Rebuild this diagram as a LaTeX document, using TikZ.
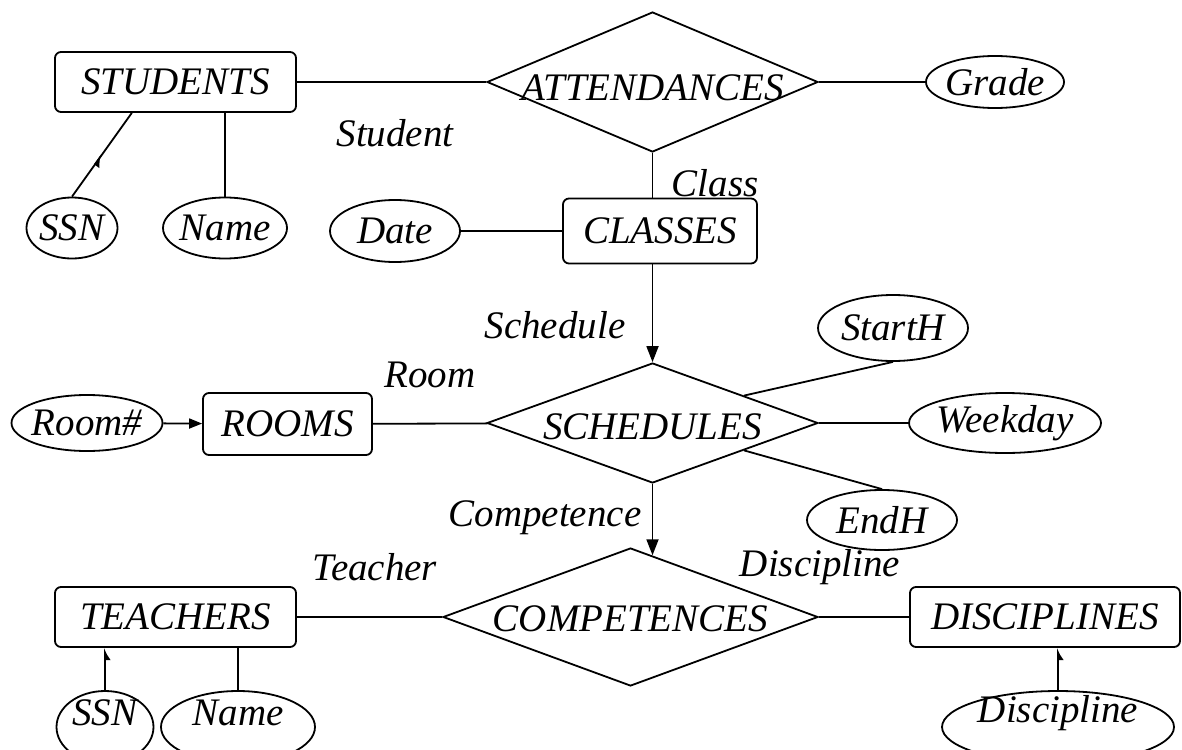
\documentclass[tikz,border=0pt]{standalone}
\usepackage{fontspec}
\setmainfont{Liberation Serif}
\usetikzlibrary{shapes.geometric, arrows.meta, calc, decorations.markings}
\begin{document}
\begin{tikzpicture}[x=1pt,y=-1pt, line width=1.8pt,
  every node/.style={font=\fontsize{39}{39}\selectfont\itshape},
  ent/.style={draw, rectangle, rounded corners=6pt, inner sep=0pt},
  attr/.style={draw, ellipse, inner sep=0pt},
  rel/.style={draw, diamond, inner sep=0pt},
  lbl/.style={inner sep=0pt},
  tipline/.style={-{Triangle[width=12pt,length=16pt]}},
  smalltip/.style={-{Triangle[width=10pt,length=13pt]}},
  halftip/.style={-{Latex[harpoon,swap,width=12pt,length=10pt]}}
]
\useasboundingbox (0,0) rectangle (1182,749);
\clip (0,0) rectangle (1182,749);

% entities
\node[ent, minimum width=241pt, minimum height=60pt] (stu) at (175.5,82) {STUDENTS};
\node[ent, minimum width=194pt, minimum height=65pt] (cls) at (660,231) {CLASSES};
\node[ent, minimum width=169pt, minimum height=62pt] (rooms) at (287.5,424) {ROOMS};
\node[ent, minimum width=241pt, minimum height=60pt] (tea) at (175.5,617) {TEACHERS};
\node[ent, minimum width=270pt, minimum height=60pt] (dis) at (1045,617) {DISCIPLINES};

% relationships
\node[rel, minimum width=331pt, minimum height=140pt, label={[lbl,yshift=-6pt]center:ATTENDANCES}] (att) at (652.5,82) {};
\node[rel, minimum width=331pt, minimum height=120pt, label={[lbl,yshift=-4pt]center:SCHEDULES}] (sch) at (652.5,423) {};
\node[rel, minimum width=375pt, minimum height=138pt, label={[lbl,yshift=-2pt]center:COMPETENCES}] (cmp) at (630.5,617) {};

% attributes
\node[attr, minimum width=138pt, minimum height=52pt, label={[lbl]center:Grade}] (grade) at (995,82) {};
\node[attr, minimum width=91pt, minimum height=61pt, label={[lbl]center:SSN}] (ssna) at (72,228) {};
\node[attr, minimum width=124pt, minimum height=61pt, label={[lbl]center:Name}] (namea) at (225,228) {};
\node[attr, minimum width=130pt, minimum height=62pt, label={[lbl]center:Date}] (date) at (395,231) {};
\node[attr, minimum width=150pt, minimum height=66pt, label={[lbl]center:StartH}] (starth) at (893,328) {};
\node[attr, minimum width=151pt, minimum height=56pt, label={[lbl]center:Room\#}] (roomno) at (87,423) {};
\node[attr, minimum width=192pt, minimum height=60pt, label={[lbl]center:Weekday}] (wk) at (1005,423) {};
\node[attr, minimum width=150pt, minimum height=60pt, label={[lbl]center:EndH}] (endh) at (882,520) {};
\node[attr, minimum width=97pt, minimum height=72pt, label={[lbl,yshift=14pt]center:SSN}] (ssnb) at (105,727) {};
\node[attr, minimum width=154pt, minimum height=72pt, label={[lbl,yshift=14pt]center:Name}] (nameb) at (238,727) {};
\node[attr, minimum width=232pt, minimum height=72pt, label={[lbl,yshift=14pt]center:Discipline}] (disc) at (1058,727) {};

% role labels
\node[lbl] (lstudent) at (395,133) {Student};
\node[lbl] (lclass) at (715,183) {Class};
\node[lbl] (lschedule) at (555,325) {Schedule};
\node[lbl] (lroom) at (430,375) {Room};
\node[lbl] (lcompetence) at (545,518) {Competence};
\node[lbl] (lteacher) at (375,567) {Teacher};
\node[lbl] (ldiscipline) at (820,567) {Discipline};

% helper coordinates
\coordinate (stussn) at ($(stu.south west)!0.32!(stu.south east)$);
\coordinate (schne) at ($(sch.north)!0.55!(sch.east)$);
\coordinate (schse) at ($(sch.south)!0.55!(sch.east)$);
\coordinate (cmpn) at ($(cmp.north)!0.117!(cmp.east)$);

% connectors
\draw (stu) -- (att);
\draw (att) -- (grade);
\draw[postaction={decorate, decoration={markings, mark=at position 0.5 with {\arrow{Latex[harpoon,swap,width=12pt,length=10pt]}}}}] (ssna.north) -- (stussn);
\draw (namea.north) -- (namea.north |- stu.south);
\draw (att.south) -- (att.south |- cls.north);
\draw (date) -- (cls);
\draw[tipline] (sch.north |- cls.south) -- (sch.north);
\draw (schne) -- (starth.south);
\draw (schse) -- (endh.north);
\draw (sch) -- (wk);
\draw (rooms) -- (sch);
\draw[smalltip] (roomno) -- (rooms);
\draw[tipline] (sch.south) -- (sch.south |- cmpn);
\draw (tea) -- (cmp);
\draw (cmp) -- (dis);
\draw[halftip] (ssnb.north) -- (ssnb.north |- tea.south);
\draw (nameb.north) -- (nameb.north |- tea.south);
\draw[halftip] (disc.north) -- (disc.north |- dis.south);
\end{tikzpicture}
\end{document}
